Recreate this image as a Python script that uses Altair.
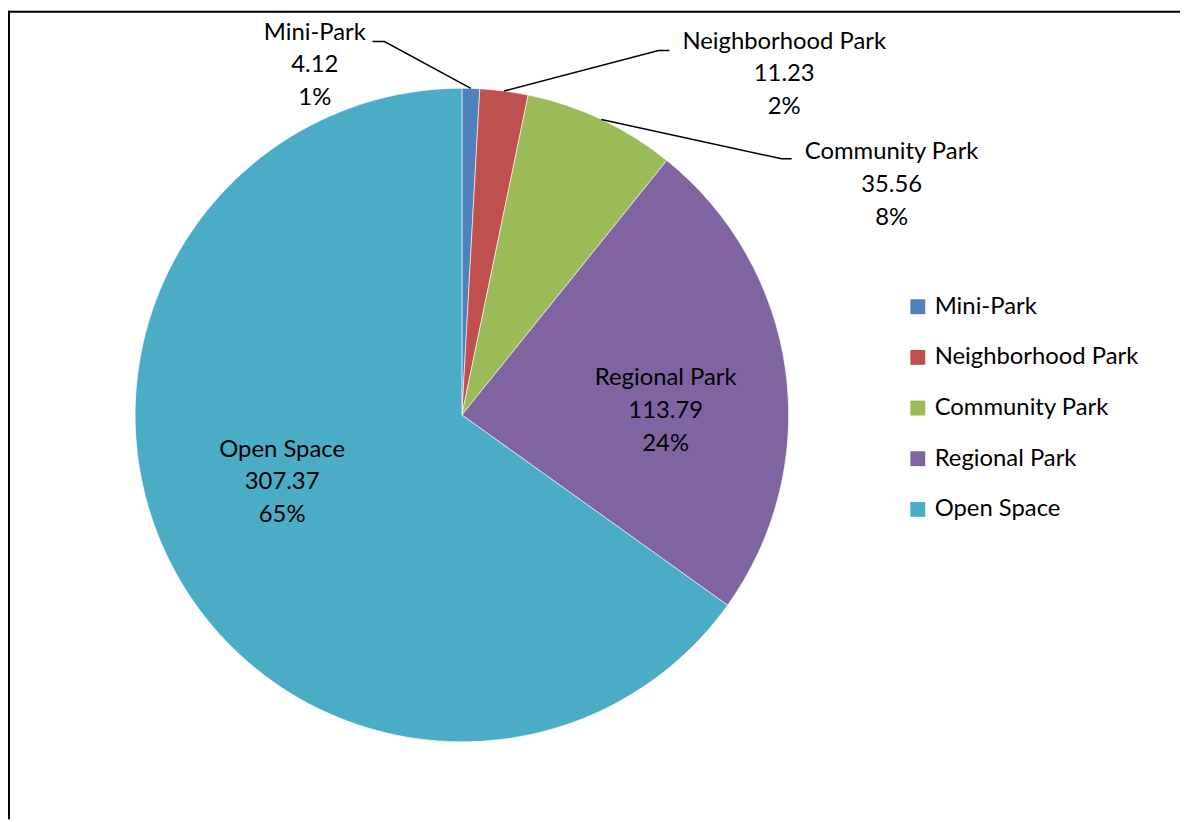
import math
import altair as alt
import pandas as pd

# ---- data ----
categories = ["Mini-Park", "Neighborhood Park", "Community Park", "Regional Park", "Open Space"]
values = [4.12, 11.23, 35.56, 113.79, 307.37]
colors = ["#4F81BD", "#C0504D", "#9BBB59", "#8064A2", "#4BACC6"]

total = sum(values)
pct_labels = [f"{round(v / total * 100)}%" for v in values]
value_labels = [f"{v:.2f}" for v in values]

# ---- layout ----
W, H = 1180, 814
CX, CY, R = 457, 407, 329
FONT = "Lato"
FS = 24
LH = 33

df = pd.DataFrame({
    "idx": list(range(len(categories))),
    "category": categories,
    "value": values,
    "label": [f"{c}\n{v}\n{p}" for c, v, p in zip(categories, value_labels, pct_labels)],
})

theta_enc = alt.Theta("value:Q", stack=True)

arcs = alt.Chart(df).mark_arc(radius=R, stroke="white", strokeWidth=0.6).encode(
    theta=theta_enc,
    order=alt.Order("idx:Q"),
    x=alt.value(CX),
    y=alt.value(CY),
    color=alt.Color(
        "category:N",
        sort=categories,
        scale=alt.Scale(domain=categories, range=colors),
        legend=alt.Legend(
            orient="none", legendX=904, legendY=286, title=None,
            symbolType="square", symbolSize=225, symbolStrokeWidth=0,
            labelFontSize=FS, labelFont=FONT, labelColor="black",
            rowPadding=27, labelOffset=5, padding=0, labelLimit=400,
        ),
    ),
)

# label style per slice: (radius, dx, dy)
label_style = {
    "Mini-Park": (360, -158, -25),
    "Neighborhood Park": (360, 278, -19),
    "Community Park": (360, 279, 61),
    "Regional Park": (200, 7, -10),
    "Open Space": (190, -12, -52),
}

label_layers = []
for cat in categories:
    r, dx, dy = label_style[cat]
    layer = alt.Chart(df).transform_calculate(
        txt=f"datum.category === '{cat}' ? datum.label : ''"
    ).mark_text(
        radius=r, dx=dx, dy=dy, font=FONT, fontSize=FS, color="black",
        lineBreak="\n", lineHeight=LH, align="center", baseline="middle",
    ).encode(
        theta=theta_enc,
        order=alt.Order("idx:Q"),
        detail="category:N",
        x=alt.value(CX),
        y=alt.value(CY),
        text="txt:N",
    )
    label_layers.append(layer)

# leader lines: start at slice edge (from data), elbow and end near the label
leader_layout = {
    "Mini-Park": [(379, 31), (367, 31)],
    "Neighborhood Park": [(655, 40), (666, 40)],
    "Community Park": [(779, 149), (789, 149)],
}
rows = []
cum = 0.0
for cat, v in zip(categories, values):
    mid = 2 * math.pi * (cum + v / 2) / total
    cum += v
    if cat in leader_layout:
        ex = CX + R * math.sin(mid)
        ey = CY - R * math.cos(mid)
        pts = [(ex, ey)] + leader_layout[cat]
        for i, (px, py) in enumerate(pts):
            rows.append({"category": cat, "seq": i, "px": px, "py": py})
leaders_df = pd.DataFrame(rows)

leaders = alt.Chart(leaders_df).mark_line(color="black", strokeWidth=1.5).encode(
    x=alt.X("px:Q", scale=None, axis=None),
    y=alt.Y("py:Q", scale=None, axis=None),
    detail="category:N",
    order="seq:Q",
)

frame_data = alt.Data(values=[{"k": 1}])
frame_top = alt.Chart(frame_data).mark_rule(color="black", strokeWidth=2).encode(
    x=alt.value(0), x2=alt.value(W), y=alt.value(1)
)
frame_left = alt.Chart(frame_data).mark_rule(color="black", strokeWidth=2).encode(
    x=alt.value(1), y=alt.value(0), y2=alt.value(H)
)

chart = alt.layer(arcs, *label_layers, leaders, frame_top, frame_left).properties(
    width=W, height=H, autosize="none", padding=0, background="white"
).configure_view(stroke=None)

chart.save("out.html", embed_options={"renderer": "svg", "actions": False})
